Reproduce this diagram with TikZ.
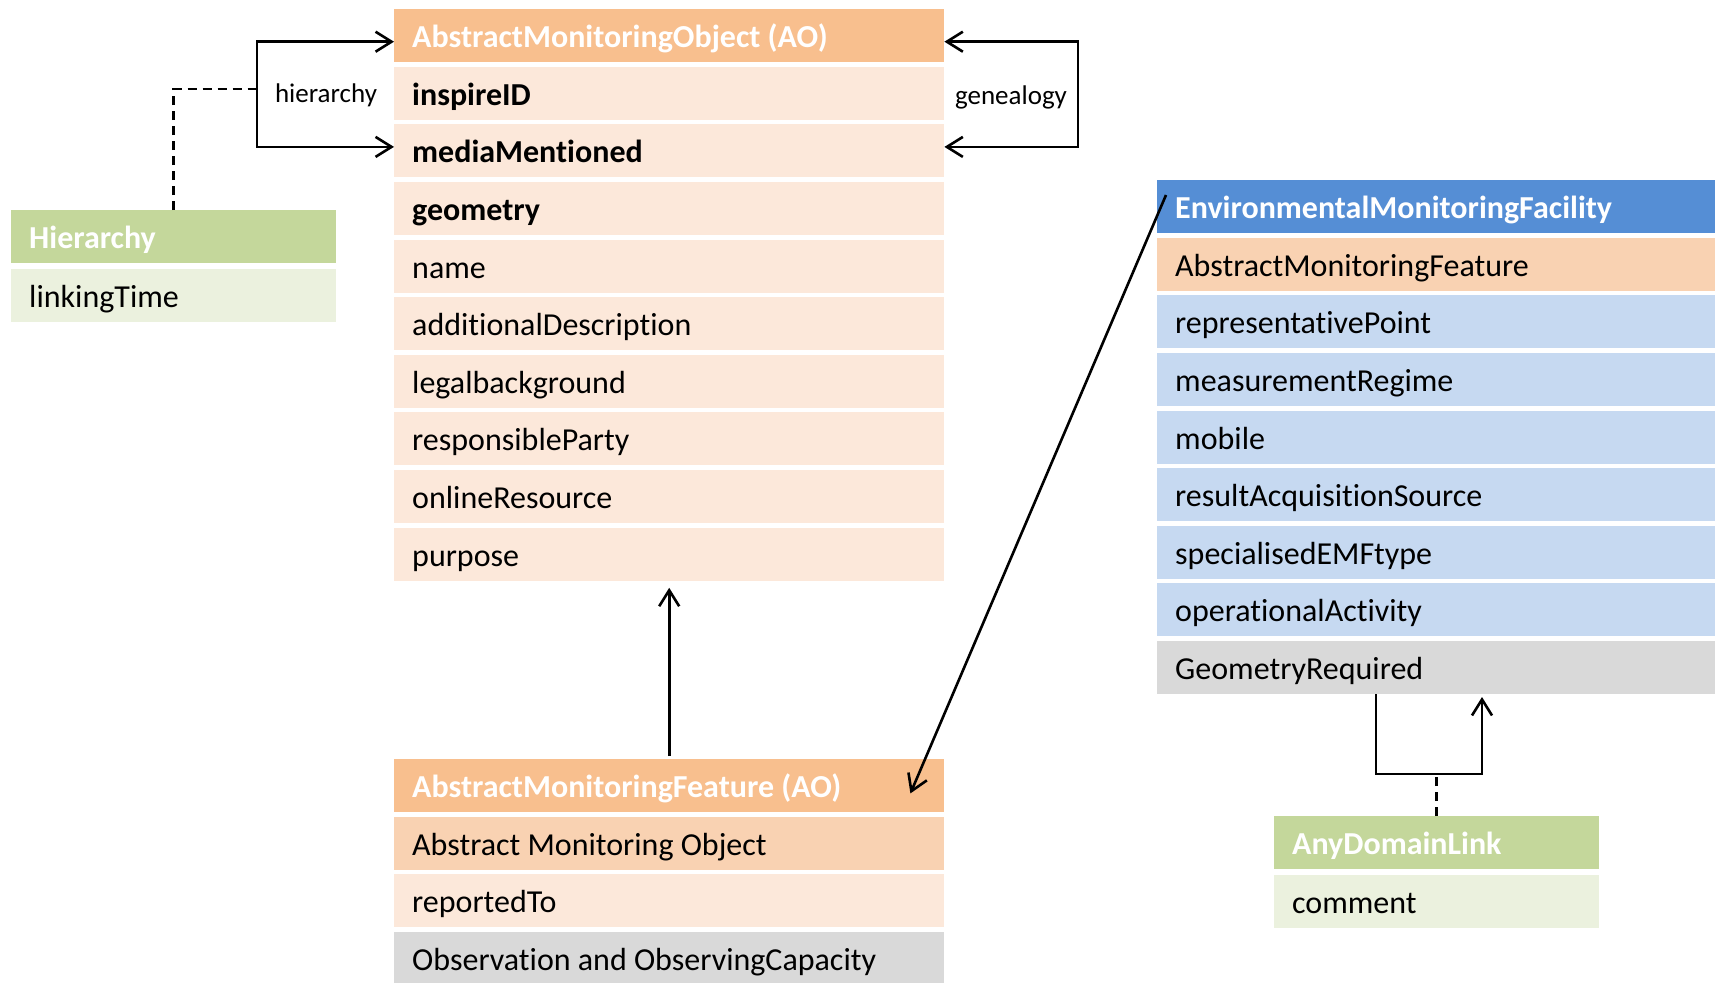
\documentclass[tikz,border=0pt]{standalone}
\usepackage{fontspec}
\setmainfont{Carlito}[RawFeature={-liga;-clig;-calt;-dlig}]
\usetikzlibrary{arrows.meta}
\definecolor{aoH}{HTML}{F8BF8E}
\definecolor{aoL}{HTML}{FCE8DA}
\definecolor{aoM}{HTML}{F9D2B2}
\definecolor{blH}{HTML}{558ED5}
\definecolor{blL}{HTML}{C6D9F1}
\definecolor{gry}{HTML}{D9D9D9}
\definecolor{grH}{HTML}{C4D79B}
\definecolor{grL}{HTML}{EBF1DE}
\begin{document}
\begin{tikzpicture}[x=1pt,y=-1pt,
  cell/.style={rectangle, anchor=north west, inner xsep=18pt, inner ysep=0pt,
    minimum height=53pt, text width=#1, align=flush left,
    font=\fontsize{32}{38}\selectfont, text height=26pt, text depth=2pt},
  hd/.style={text=white, font=\fontsize{32}{38}\selectfont\bfseries},
  bd/.style={font=\fontsize{32}{38}\selectfont\bfseries},
  arr/.style={line width=2.6pt, -{Straight Barb[length=16pt,width=20pt]}},
  arrs/.style={line width=2.6pt, {Straight Barb[length=16pt,width=20pt]}-{Straight Barb[length=16pt,width=20pt]}},
  dsh/.style={line width=2.6pt, dash pattern=on 9pt off 6pt},
  lbl/.style={font=\fontsize{27}{31}\selectfont, inner sep=0pt}
]
\useasboundingbox (0,0) rectangle (1715,982);

% AbstractMonitoringObject
\node[cell=514pt, fill=aoH, hd] (ao0) at (394,9) {AbstractMonitoringObject (AO)};
\node[cell=514pt, fill=aoL, bd] (ao1) at (394,66.6) {inspireID};
\node[cell=514pt, fill=aoL, bd] (ao2) at (394,124.2) {mediaMentioned};
\node[cell=514pt, fill=aoL, bd] (ao3) at (394,181.8) {geometry};
\node[cell=514pt, fill=aoL] (ao4) at (394,239.4) {name};
\node[cell=514pt, fill=aoL] (ao5) at (394,297) {additionalDescription};
\node[cell=514pt, fill=aoL] (ao6) at (394,354.6) {legalbackground};
\node[cell=514pt, fill=aoL] (ao7) at (394,412.2) {responsibleParty};
\node[cell=514pt, fill=aoL] (ao8) at (394,469.8) {onlineResource};
\node[cell=514pt, fill=aoL] (ao9) at (394,527.4) {purpose};

% AbstractMonitoringFeature
\node[cell=514pt, fill=aoH, hd] (amf0) at (394,759) {AbstractMonitoringFeature (AO)};
\node[cell=514pt, fill=aoM] (amf1) at (394,816.6) {Abstract Monitoring Object};
\node[cell=514pt, fill=aoL] (amf2) at (394,874.2) {reportedTo};
\node[cell=514pt, fill=gry] (amf3) at (394,931.8) {Observation and ObservingCapacity};

% EnvironmentalMonitoringFacility
\node[cell=564pt, fill=blH, hd] (emf0) at (1157,180) {EnvironmentalMonitoringFacility};
\node[cell=564pt, fill=aoM] (emf1) at (1157,237.6) {AbstractMonitoringFeature};
\node[cell=564pt, fill=blL] (emf2) at (1157,295.2) {representativePoint};
\node[cell=564pt, fill=blL] (emf3) at (1157,352.8) {measurementRegime};
\node[cell=564pt, fill=blL] (emf4) at (1157,410.4) {mobile};
\node[cell=564pt, fill=blL] (emf5) at (1157,468) {resultAcquisitionSource};
\node[cell=564pt, fill=blL] (emf6) at (1157,525.6) {specialisedEMFtype};
\node[cell=564pt, fill=blL] (emf7) at (1157,583.2) {operationalActivity};
\node[cell=564pt, fill=gry] (emf8) at (1157,640.8) {GeometryRequired};

% Hierarchy
\node[cell=289pt, fill=grH, hd] (hh0) at (11,210) {Hierarchy};
\node[cell=289pt, fill=grL] (hh1) at (11,269) {linkingTime};

% AnyDomainLink
\node[cell=289pt, fill=grH, hd] (ad0) at (1274,816) {AnyDomainLink};
\node[cell=289pt, fill=grL] (ad1) at (1274,875) {comment};

% hierarchy association
\coordinate (hx) at (257,89);
\draw[arrs] ([yshift=-6pt]ao0.west) -| (hx) |- ([yshift=4pt]ao2.west);
\draw[dsh] (hh0.north) |- (hx);
\node[lbl] (hlab) at (326,95) {hierarchy};

% genealogy association
\coordinate (gx) at (1078,95);
\draw[arrs] ([yshift=-6pt]ao0.east) -| (gx) |- ([yshift=4pt]ao2.east);
\node[lbl] (glab) at (1011,97) {genealogy};

% AMF -> AO
\draw[arr] ([yshift=3pt]amf0.north) -- ([yshift=-7pt]ao9.south);

% EMF -> AMF
\draw[arr] ([xshift=9pt,yshift=-15pt]emf0.north west) -- ([xshift=-34pt,yshift=19pt]amf0.south east);

% GeometryRequired / AnyDomainLink
\coordinate (gl) at (1376,774);
\coordinate (gr) at (1482,774);
\coordinate (gtip) at (1482,697);
\draw[arr] (gl |- emf8.south) -- (gl) -- (gr) -- (gtip);
\draw[dsh] (ad0.north) -- (ad0.north |- gl);
\end{tikzpicture}
\end{document}
